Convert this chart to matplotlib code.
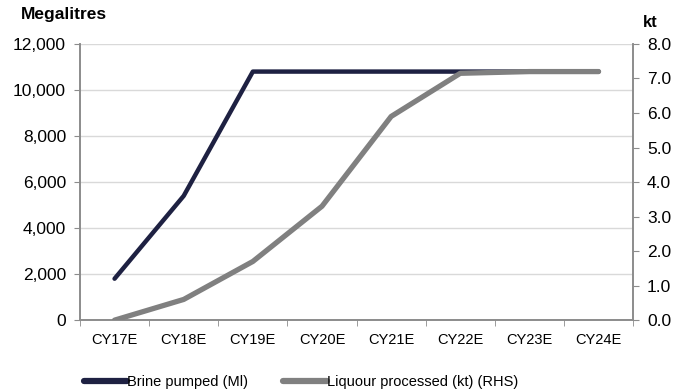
import matplotlib.pyplot as plt
from matplotlib.ticker import FuncFormatter, FixedLocator

plt.rcParams['font.family'] = ['Liberation Sans', 'DejaVu Sans']

years = ['CY17E', 'CY18E', 'CY19E', 'CY20E', 'CY21E', 'CY22E', 'CY23E', 'CY24E']
brine_ml = [1800, 5400, 10800, 10800, 10800, 10800, 10800, 10800]
liquour_kt = [0.0, 0.6, 1.7, 3.3, 5.9, 7.15, 7.2, 7.2]

navy = '#1e2142'
grey = '#808080'
axis_col = '#8c8c8c'

fig = plt.figure(figsize=(6.75, 3.89), dpi=100)
ax = fig.add_axes([0.1185, 0.177, 0.8195, 0.71])
ax2 = ax.twinx()

x = list(range(len(years)))
ax.plot(x, brine_ml, color=navy, lw=3.2, solid_capstyle='round', label='Brine pumped (Ml)', zorder=3)
ax2.plot(x, liquour_kt, color=grey, lw=3.8, solid_capstyle='round', label='Liquour processed (kt) (RHS)', zorder=3)

ax.set_xlim(-0.5, len(years) - 0.5)
ax.set_ylim(0, 12000)
ax2.set_ylim(0, 8)
ax.set_yticks(range(0, 12001, 2000))
ax2.set_yticks([i for i in range(9)])
ax.yaxis.set_major_formatter(FuncFormatter(lambda v, p: f'{int(v):,}'))
ax2.yaxis.set_major_formatter(FuncFormatter(lambda v, p: f'{v:.1f}'))

ax.set_xticks(x)
ax.set_xticklabels(years)
ax.xaxis.set_minor_locator(FixedLocator([i - 0.5 for i in range(len(years) + 1)]))
ax.tick_params(axis='x', which='major', length=0, pad=9, labelsize=10.5)
ax.tick_params(axis='x', which='minor', length=4, color=axis_col, direction='out')

ax.grid(axis='y', color='#d9d9d9', lw=1)
ax.set_axisbelow(True)

for a in (ax, ax2):
    a.spines['top'].set_visible(False)
    for s in ('left', 'right', 'bottom'):
        a.spines[s].set_color(axis_col)
        a.spines[s].set_linewidth(1.2)
    a.tick_params(axis='y', length=4, color=axis_col, labelsize=12.5, pad=6)

ax2.set_zorder(ax.get_zorder() + 1)
ax2.patch.set_visible(False)

fig.text(0.031, 0.963, 'Megalitres', fontsize=12.5, fontweight='bold', va='center')
fig.text(0.952, 0.943, 'kt', fontsize=12, fontweight='bold', va='center')

h1, l1 = ax.get_legend_handles_labels()
h2, l2 = ax2.get_legend_handles_labels()
leg = fig.legend(h1 + h2, l1 + l2, loc='center left', bbox_to_anchor=(0.124, 0.018), ncol=2,
                 frameon=False, fontsize=10.5, handlelength=3.0, handletextpad=0.0,
                 columnspacing=2.4, borderaxespad=0, borderpad=0)
for line in leg.get_lines():
    line.set_linewidth(4.5)

fig.savefig('out.png', dpi=100)
